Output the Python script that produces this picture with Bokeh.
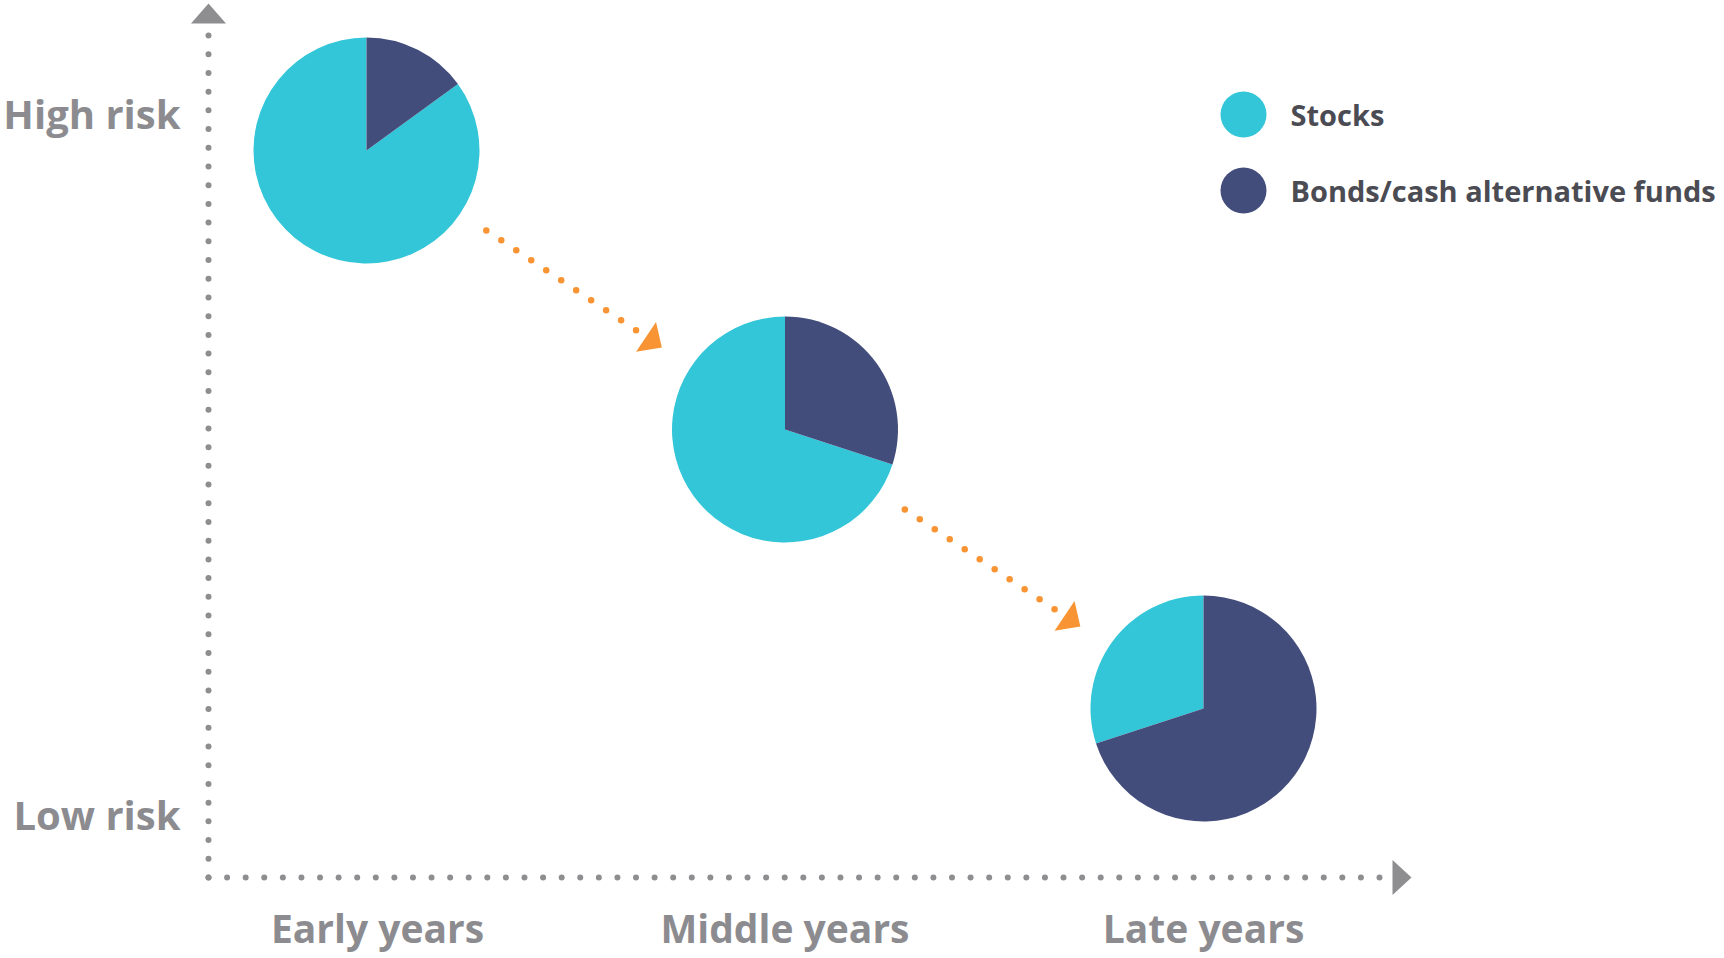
import math
import numpy as np
from bokeh.plotting import figure
from bokeh.models import Range1d, ColumnDataSource
from bokeh.core.properties import value
from bokeh.embed import file_html
from bokeh.resources import INLINE

# ---------------- data ----------------
stages = ["Early years", "Middle years", "Late years"]
risk_level = [3, 2, 1]            # 3 = high risk, 1 = low risk
stocks_pct = [85, 70, 30]
bonds_pct = [15, 30, 70]
series_names = ["Stocks", "Bonds/cash alternative funds"]
risk_labels = ["High risk", "Low risk"]

# ---------------- style / layout ----------------
STOCK_COLOR = "#33C6D8"
BOND_COLOR = "#434D7B"
ORANGE = "#F89433"
AXIS_GREY = "#8E8E91"
LABEL_GREY = "#8C8C90"
LEGEND_TEXT = "#4B4B53"
FONT = "Open Sans"

W, H = 1724, 958
STAGE0_PX, STAGE_STEP_PX = 366.0, 418.5     # pixel position of stage 0 and step
LEVEL3_PY, LEVEL_STEP_PY = 150.0, 279.0     # pixel position of risk level 3 and step
PIE_R = 113
STAGE_LABEL_NUDGE = [11, 0, 0]              # small horizontal label nudges (px)


def dx(px):
    return (px - STAGE0_PX) / STAGE_STEP_PX


def dy(py):
    return 3 - (py - LEVEL3_PY) / LEVEL_STEP_PY


def to_px(x):
    return STAGE0_PX + x * STAGE_STEP_PX


def to_py(y):
    return LEVEL3_PY + (3 - y) * LEVEL_STEP_PY


p = figure(width=W, height=H,
           x_range=Range1d(dx(0), dx(W)),
           y_range=Range1d(dy(H), dy(0)),
           x_axis_location=None, y_axis_location=None,
           output_backend="svg", toolbar_location=None,
           min_border=0, outline_line_color=None)
p.grid.visible = False
p.background_fill_color = "white"

# ---------------- pies ----------------
xs = list(range(len(stages)))
top = math.pi / 2
src = ColumnDataSource(dict(
    x=xs, y=risk_level,
    b_start=[top - b / 100 * 2 * math.pi for b in bonds_pct],
    b_end=[top for _ in bonds_pct],
    s_start=[top for _ in stocks_pct],
    s_end=[top + s / 100 * 2 * math.pi for s in stocks_pct],
))
R_DATA = PIE_R / STAGE_STEP_PX   # radius measured along the x scale
p.wedge(x="x", y="y", radius=R_DATA, source=src,
        start_angle="s_start", end_angle="s_end", direction="anticlock",
        fill_color=STOCK_COLOR, line_color=None)
p.wedge(x="x", y="y", radius=R_DATA, source=src,
        start_angle="b_start", end_angle="b_end", direction="anticlock",
        fill_color=BOND_COLOR, line_color=None)


# ---------------- helpers for decorations ----------------
def head(tip, u, length=19.0, width=36.0):
    tx, ty = tip
    ux, uy = u
    bx, by = tx - ux * length, ty - uy * length
    nx, ny = -uy, ux
    pts = [(tx, ty), (bx + nx * width / 2, by + ny * width / 2), (bx - nx * width / 2, by - ny * width / 2)]
    return [dx(a) for a, _ in pts], [dy(b) for _, b in pts]


# ---------------- axes (dotted with arrow heads) ----------------
AX_X, AX_Y = 208.0, 877.0
v_py = np.linspace(AX_Y, 35.0, 46)
h_px = np.linspace(AX_X, 1379.0, 64)
p.scatter(x=[dx(AX_X)] * len(v_py), y=[dy(v) for v in v_py], size=6,
          fill_color=AXIS_GREY, line_color=None)
p.scatter(x=[dx(h) for h in h_px], y=[dy(AX_Y)] * len(h_px), size=6,
          fill_color=AXIS_GREY, line_color=None)
hx, hy = head((AX_X, 3.0), (0.0, -1.0), length=20, width=35)
p.patch(hx, hy, fill_color=AXIS_GREY, line_color=None)
hx, hy = head((1411.0, AX_Y), (1.0, 0.0), length=19, width=35)
p.patch(hx, hy, fill_color=AXIS_GREY, line_color=None)

# ---------------- orange transition arrows ----------------
for i in range(len(stages) - 1):
    c1 = (to_px(xs[i]), to_py(risk_level[i]))
    c2 = (to_px(xs[i + 1]), to_py(risk_level[i + 1]))
    ddx, ddy = c2[0] - c1[0], c2[1] - c1[1]
    dist = math.hypot(ddx, ddy)
    u = (ddx / dist, ddy / dist)
    ts = np.linspace(PIE_R + 31, dist - PIE_R - 66, 11)
    p.scatter(x=[dx(c1[0] + t * u[0]) for t in ts], y=[dy(c1[1] + t * u[1]) for t in ts],
              size=6.5, fill_color=ORANGE, line_color=None)
    t_tip = dist - PIE_R - 35
    hx, hy = head((c1[0] + t_tip * u[0], c1[1] + t_tip * u[1]), u, length=19, width=36)
    p.patch(hx, hy, fill_color=ORANGE, line_color=None)

# ---------------- axis labels ----------------
p.text(x=[dx(180)] * 2, y=[dy(112.5), dy(814)], text=risk_labels,
       text_font=value(FONT), text_font_style="bold", text_font_size="40px",
       text_color=LABEL_GREY, text_align="right", text_baseline="middle")
p.text(x=xs, y=[dy(927)] * len(stages), text=stages, x_offset=STAGE_LABEL_NUDGE,
       text_font=value(FONT), text_font_style="bold", text_font_size="39px",
       text_color=LABEL_GREY, text_align="center", text_baseline="middle")

# ---------------- legend ----------------
LEG_X, LEG_Y0, LEG_STEP = 1243.0, 114.0, 76.0
leg_py = [LEG_Y0 + k * LEG_STEP for k in range(len(series_names))]
p.scatter(x=[dx(LEG_X)] * 2, y=[dy(v) for v in leg_py], size=46,
          fill_color=[STOCK_COLOR, BOND_COLOR], line_color=None)
p.text(x=[dx(1290)] * 2, y=[dy(v) for v in leg_py], text=series_names,
       text_font=value(FONT), text_font_style="bold", text_font_size="29px",
       text_color=LEGEND_TEXT, text_align="left", text_baseline="middle")

open("out.html", "w").write(file_html(p, INLINE))
